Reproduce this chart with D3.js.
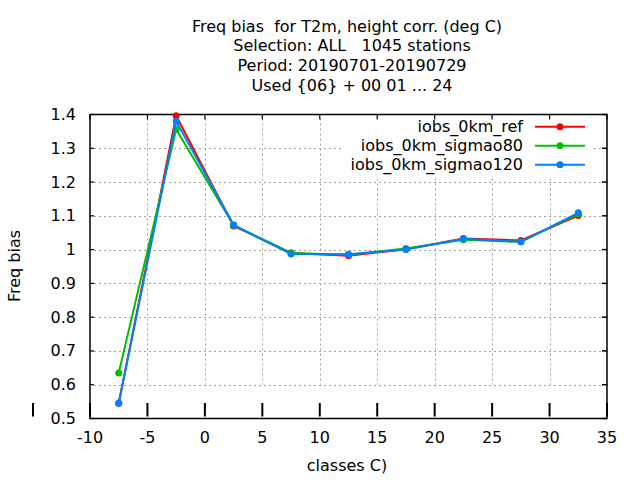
<!DOCTYPE html>
<html>
<head>
<meta charset="utf-8">
<script src="https://cdn.jsdelivr.net/npm/d3@7"></script>
<style>
  body { margin: 0; background: #fff; }
  text { font-family: "DejaVu Sans", sans-serif; fill: #000; white-space: pre; }
</style>
</head>
<body>
<div id="chart"></div>
<script>
const classes = [-7.5, -2.5, 2.5, 7.5, 12.5, 17.5, 22.5, 27.5, 32.5];
const refValues = [0.545, 1.396, 1.070, 0.990, 0.982, 1.001, 1.033, 1.027, 1.101];
const sigmao80Values = [0.635, 1.356, 1.072, 0.990, 0.985, 1.003, 1.029, 1.023, 1.106];
const sigmao120Values = [0.545, 1.380, 1.073, 0.987, 0.986, 1.000, 1.032, 1.023, 1.109];
const seriesNames = ['iobs_0km_ref', 'iobs_0km_sigmao80', 'iobs_0km_sigmao120'];
const seriesColors = ['#ff0000', '#00c000', '#0080ff'];
const xTicks = [-10, -5, 0, 5, 10, 15, 20, 25, 30, 35];
const yTicks = [0.5, 0.6, 0.7, 0.8, 0.9, 1.0, 1.1, 1.2, 1.3, 1.4];
const titleLines = [
  'Freq bias  for T2m, height corr. (deg C)',
  'Selection: ALL   1045 stations',
  'Period: 20190701-20190729',
  'Used {06} + 00 01 ... 24'
];

const width = 640, height = 480;
const plotLeft = 90, plotRight = 607, plotTop = 114.5, plotBottom = 418.5;
const fontSize = '16px';

const svg = d3.select('#chart').append('svg')
  .attr('width', width)
  .attr('height', height);

const x = d3.scaleLinear().domain([-10, 35]).range([plotLeft, plotRight]);
const y = d3.scaleLinear().domain([0.5, 1.4]).range([plotBottom, plotTop]);

// grid
const grid = svg.append('g')
  .attr('stroke', '#a0a0a0')
  .attr('stroke-width', 1)
  .attr('stroke-dasharray', '2,3');

grid.selectAll('line.h')
  .data(yTicks.filter(v => v > 0.55 && v < 1.35))
  .join('line')
  .attr('x1', plotLeft + 4).attr('x2', plotRight - 5)
  .attr('y1', d => Math.round(y(d)) + 0.5)
  .attr('y2', d => Math.round(y(d)) + 0.5);

grid.selectAll('line.v')
  .data(xTicks.filter(v => v > -10 && v < 35))
  .join('line')
  .attr('x1', d => Math.round(x(d)) + 0.5)
  .attr('x2', d => Math.round(x(d)) + 0.5)
  .attr('y1', plotTop + 4)
  .attr('y2', y(0.6));

// legend background hides the grid
svg.append('rect')
  .attr('x', 343).attr('y', 116)
  .attr('width', 250).attr('height', 60)
  .attr('fill', '#fff');

// border
svg.append('rect')
  .attr('x', plotLeft).attr('y', plotTop)
  .attr('width', plotRight - plotLeft).attr('height', plotBottom - plotTop)
  .attr('fill', 'none')
  .attr('stroke', '#000')
  .attr('stroke-width', 1.5);

// ticks
const ticks = svg.append('g').attr('stroke', '#000');

ticks.selectAll('line.bx')
  .data(xTicks)
  .join('line')
  .attr('stroke-width', 2)
  .attr('x1', d => x(d)).attr('x2', d => x(d))
  .attr('y1', 403).attr('y2', 416.5);

ticks.selectAll('line.tx')
  .data(xTicks)
  .join('line')
  .attr('stroke-width', 1.2)
  .attr('x1', d => x(d)).attr('x2', d => x(d))
  .attr('y1', plotTop).attr('y2', plotTop + 5);

ticks.selectAll('line.ly')
  .data(yTicks)
  .join('line')
  .attr('stroke-width', 1.2)
  .attr('x1', plotLeft).attr('x2', plotLeft + 4)
  .attr('y1', d => y(d)).attr('y2', d => y(d));

ticks.selectAll('line.ry')
  .data(yTicks)
  .join('line')
  .attr('stroke-width', 1.5)
  .attr('x1', plotRight - 5).attr('x2', plotRight)
  .attr('y1', d => y(d)).attr('y2', d => y(d));

// stray mark left of the y axis
ticks.append('line')
  .attr('stroke-width', 2)
  .attr('x1', 33).attr('x2', 33)
  .attr('y1', 403).attr('y2', 416.5);

// tick labels
svg.append('g').selectAll('text')
  .data(xTicks)
  .join('text')
  .attr('x', d => x(d))
  .attr('y', 443)
  .attr('text-anchor', 'middle')
  .style('font-size', fontSize)
  .text(d => d);

svg.append('g').selectAll('text')
  .data(yTicks)
  .join('text')
  .attr('x', 76)
  .attr('y', d => y(d) + 5.5)
  .attr('text-anchor', 'end')
  .style('font-size', fontSize)
  .text(d => d3.format('~g')(d));

// axis titles
svg.append('text')
  .attr('x', 347).attr('y', 471)
  .attr('text-anchor', 'middle')
  .style('font-size', fontSize)
  .text('classes C)');

svg.append('text')
  .attr('transform', 'translate(20,266) rotate(-90)')
  .attr('text-anchor', 'middle')
  .style('font-size', fontSize)
  .text('Freq bias');

// title
svg.append('g').selectAll('text')
  .data(titleLines)
  .join('text')
  .attr('x', (d, i) => i === 0 ? 347 : 352)
  .attr('y', (d, i) => 31.5 + i * 19.7)
  .attr('text-anchor', 'middle')
  .style('font-size', fontSize)
  .text(d => d);

// series
const series = [refValues, sigmao80Values, sigmao120Values];
const line = d3.line()
  .x((d, i) => x(classes[i]))
  .y(d => y(d));

series.forEach((vals, s) => {
  const g = svg.append('g');
  g.append('path')
    .datum(vals)
    .attr('d', line)
    .attr('fill', 'none')
    .attr('stroke', seriesColors[s])
    .attr('stroke-width', 2);
  g.selectAll('circle')
    .data(vals)
    .join('circle')
    .attr('cx', (d, i) => x(classes[i]))
    .attr('cy', d => y(d))
    .attr('r', 3.5)
    .attr('fill', seriesColors[s]);
});

// legend
const legendRows = [126.7, 145.7, 164.7];
const legend = svg.append('g');
seriesNames.forEach((name, s) => {
  legend.append('text')
    .attr('x', 523).attr('y', legendRows[s] + 5.5)
    .attr('text-anchor', 'end')
    .style('font-size', fontSize)
    .text(name);
  legend.append('line')
    .attr('x1', 535).attr('x2', 585)
    .attr('y1', legendRows[s]).attr('y2', legendRows[s])
    .attr('stroke', seriesColors[s])
    .attr('stroke-width', 2);
  legend.append('circle')
    .attr('cx', 560).attr('cy', legendRows[s])
    .attr('r', 3.5)
    .attr('fill', seriesColors[s]);
});
</script>
</body>
</html>
